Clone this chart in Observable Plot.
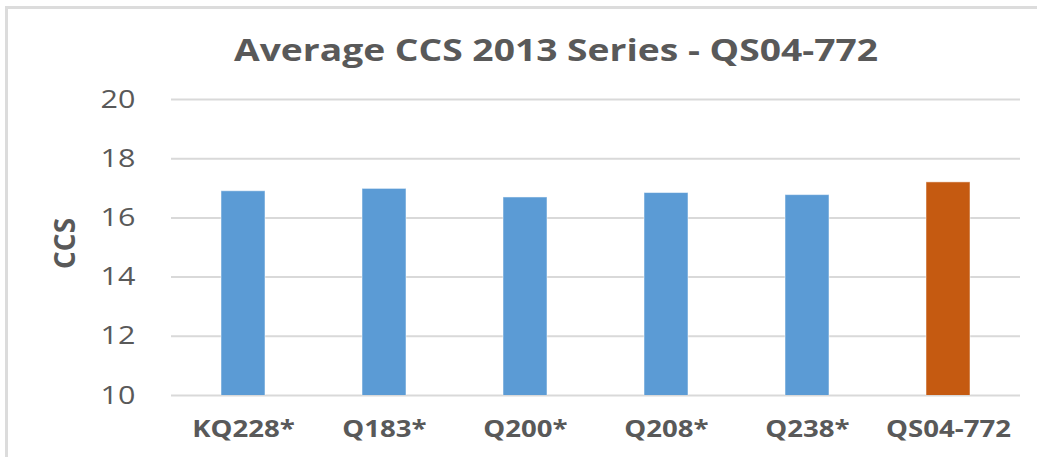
<!DOCTYPE html>
<html>
<head>
<meta charset="utf-8">
<script src="https://cdn.jsdelivr.net/npm/d3@7"></script>
<script src="https://cdn.jsdelivr.net/npm/@observablehq/plot@0.6"></script>
<style>
  html, body { margin: 0; padding: 0; background: #fff; }
  #wrap { position: relative; width: 1037px; height: 457px; overflow: hidden; background: #fff; }
  #frame { position: absolute; left: 5px; top: 6px; width: 1100px; height: 520px; border: 3px solid #dcdcdc; box-sizing: border-box; }
  #title { position: absolute; left: 556px; top: 34px; transform: translateX(-50%) scaleX(1.2); white-space: nowrap;
           font-family: "Open Sans", sans-serif; font-weight: bold; font-size: 31px; line-height: 1; color: #595959; }
  #chart { position: absolute; left: 0; top: 80px; }
</style>
</head>
<body>
<div id="wrap">
  <div id="frame"></div>
  <div id="title">Average CCS 2013 Series - QS04-772</div>
  <div id="chart"></div>
</div>
<script>
const categories = ["KQ228*", "Q183*", "Q200*", "Q208*", "Q238*", "QS04-772"];
const values = [16.9, 16.98, 16.69, 16.84, 16.77, 17.2];
const barColors = ["#5b9bd5", "#5b9bd5", "#5b9bd5", "#5b9bd5", "#5b9bd5", "#c55a11"];
const yTicks = [10, 12, 14, 16, 18, 20];
const yLabel = "CCS";

const data = categories.map((c, i) => ({category: c, value: values[i], color: barColors[i]}));

const plot = Plot.plot({
  width: 1037,
  height: 377,
  marginLeft: 171,
  marginRight: 17,
  marginTop: 19,
  marginBottom: 62,
  style: {fontFamily: "'Open Sans', sans-serif", color: "#595959", background: "transparent"},
  x: {domain: categories, paddingInner: 0.69, paddingOuter: 0.345, label: null},
  y: {domain: [10, 20], ticks: yTicks, label: null},
  marks: [
    Plot.gridY(yTicks, {stroke: "#d9d9d9", strokeOpacity: 1, strokeWidth: 2}),
    Plot.barY(data, {x: "category", y: "value", fill: "color", stroke: "#ffffff", strokeOpacity: 0.5, strokeWidth: 1, clip: true}),
    Plot.axisY(yTicks, {tickSize: 0, tickPadding: 36, fontSize: 25, fill: "#595959", fontFamily: "'Open Sans', sans-serif", label: null, ariaLabel: "y-axis"}),
    Plot.axisX({tickSize: 0, tickPadding: 25, fontSize: 23, fontWeight: "bold", fill: "#595959", fontFamily: "'Open Sans', sans-serif", label: null, ariaLabel: "x-axis"}),
    Plot.text([yLabel], {frameAnchor: "left", rotate: -90, dx: -105, dy: -4, fontSize: 28, fontWeight: "bold", fill: "#595959", fontFamily: "'Open Sans', sans-serif", textAnchor: "middle", lineAnchor: "middle"})
  ]
});

// widen axis tick labels horizontally to match the stretched look of the original
plot.querySelectorAll('g[aria-label^="y-axis"] text').forEach(t => {
  t.setAttribute("transform", (t.getAttribute("transform") || "") + " scale(1.22,1)");
});
plot.querySelectorAll('g[aria-label^="x-axis"] text').forEach(t => {
  t.setAttribute("transform", (t.getAttribute("transform") || "") + " scale(1.2,1)");
});
document.getElementById("chart").appendChild(plot);
</script>
</body>
</html>
